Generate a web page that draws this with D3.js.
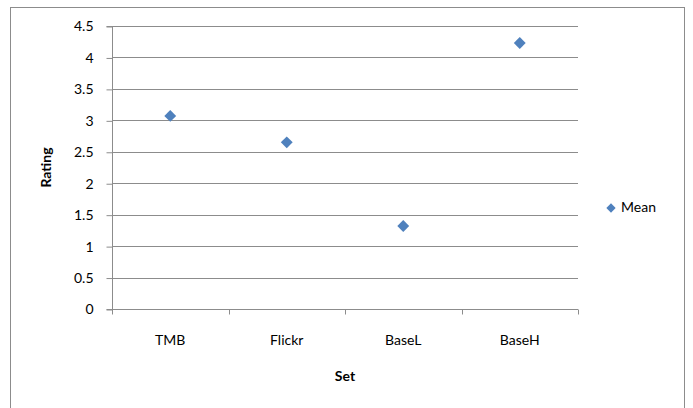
<!DOCTYPE html>
<html>
<head>
<meta charset="utf-8">
<script src="https://cdn.jsdelivr.net/npm/d3@7"></script>
<style>
  html, body { margin: 0; padding: 0; background: #fff; }
  svg { display: block; }
  text { font-family: Lato, "Open Sans", "Liberation Sans", sans-serif; fill: #000; }
</style>
</head>
<body>
<svg id="chart" width="693" height="408"></svg>
<script>
// Mean rating per image set
const categories = ["TMB", "Flickr", "BaseL", "BaseH"];
const meanValues = [3.07, 2.65, 1.32, 4.23];
const yTicks = [0, 0.5, 1, 1.5, 2, 2.5, 3, 3.5, 4, 4.5];
const seriesName = "Mean";

const svg = d3.select("#chart");
const plot = { left: 112, right: 578, top: 26, bottom: 309 };
const blue = "#4F81BD";
const gridColor = "#8c8c8c";
const fontSize = 14;

// chart frame
svg.append("rect")
  .attr("x", 10.5).attr("y", 7.5)
  .attr("width", 674).attr("height", 420)
  .attr("fill", "#fff").attr("stroke", gridColor).attr("stroke-width", 1);

const x = d3.scaleBand().domain(categories).range([plot.left, plot.right]);
const y = d3.scaleLinear().domain([0, 4.5]).range([plot.bottom, plot.top]);

// horizontal gridlines
svg.append("g")
  .selectAll("line")
  .data(yTicks.filter(t => t > 0))
  .join("line")
  .attr("x1", plot.left).attr("x2", plot.right)
  .attr("y1", d => Math.round(y(d)) + 0.5).attr("y2", d => Math.round(y(d)) + 0.5)
  .attr("stroke", gridColor).attr("stroke-width", 1);

// y axis
const yAxis = svg.append("g")
  .attr("transform", `translate(${plot.left + 0.5},0.5)`)
  .call(d3.axisLeft(y).tickValues(yTicks).tickSize(6).tickPadding(13)
    .tickFormat(d => String(d)));
yAxis.select(".domain").attr("stroke", gridColor).attr("d", `M-6,${plot.bottom}H0V${plot.top}H-6`);
yAxis.selectAll(".tick line").attr("stroke", gridColor);
yAxis.selectAll(".tick text").attr("font-size", fontSize).attr("fill", "#000")
  .style("font-family", "Lato, 'Open Sans', sans-serif");

// x axis with tick marks on category boundaries
const xAxis = svg.append("g")
  .attr("transform", `translate(0,${Math.round(plot.bottom) + 0.5})`)
  .call(d3.axisBottom(x).tickSize(0).tickPadding(26));
xAxis.select(".domain").attr("stroke", gridColor).attr("d", `M${plot.left},0H${plot.right}`);
xAxis.selectAll(".tick text").attr("font-size", fontSize).attr("fill", "#000")
  .style("font-family", "Lato, 'Open Sans', sans-serif");
const boundaries = categories.map(c => x(c)).concat([x(categories[categories.length - 1]) + x.bandwidth()]);
xAxis.append("g").selectAll("line")
  .data(boundaries)
  .join("line")
  .attr("x1", d => Math.round(d) + 0.5).attr("x2", d => Math.round(d) + 0.5)
  .attr("y1", 0).attr("y2", 5)
  .attr("stroke", gridColor);

// axis titles
svg.append("text")
  .attr("x", (plot.left + plot.right) / 2).attr("y", 377)
  .attr("text-anchor", "middle").attr("dominant-baseline", "middle")
  .attr("font-size", fontSize).attr("font-weight", "bold")
  .text("Set");
svg.append("text")
  .attr("transform", `translate(47,${(plot.top + plot.bottom) / 2}) rotate(-90)`)
  .attr("text-anchor", "middle").attr("dominant-baseline", "middle")
  .attr("font-size", fontSize).attr("font-weight", "bold")
  .text("Rating");

// diamond markers
const diamond = d3.symbol().type(d3.symbolDiamond2).size(90);
svg.append("g")
  .selectAll("path")
  .data(categories.map((c, i) => ({ c, v: meanValues[i] })))
  .join("path")
  .attr("d", diamond)
  .attr("transform", d => `translate(${x(d.c) + x.bandwidth() / 2},${y(d.v)})`)
  .attr("fill", blue);

// legend
const legend = svg.append("g").attr("transform", "translate(611,208)");
legend.append("path")
  .attr("d", d3.symbol().type(d3.symbolDiamond2).size(55))
  .attr("fill", blue);
legend.append("text")
  .attr("x", 10).attr("y", 0)
  .attr("dominant-baseline", "middle")
  .attr("font-size", fontSize)
  .text(seriesName);
</script>
</body>
</html>
